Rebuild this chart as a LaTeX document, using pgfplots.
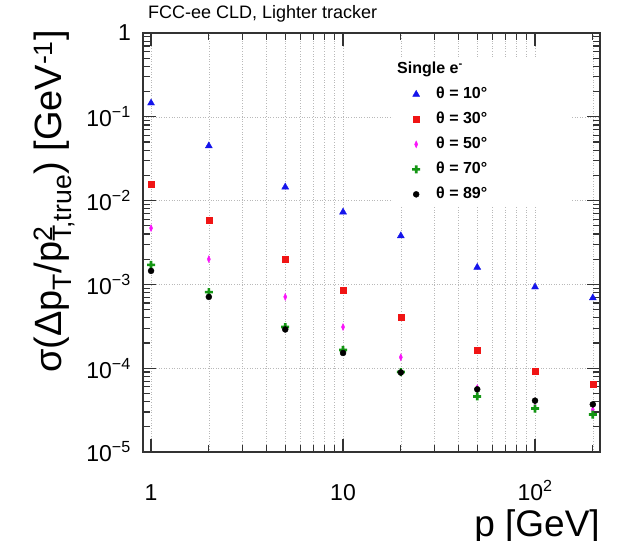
\documentclass[border=0pt]{standalone}
\usepackage{fontspec}
\setmainfont{Liberation Sans}
\usepackage{pgfplots}
\pgfplotsset{compat=1.18}

\definecolor{rblue}{RGB}{20,20,235}
\definecolor{rred}{RGB}{240,20,20}
\definecolor{rmag}{RGB}{250,20,250}
\definecolor{rgreen}{RGB}{20,150,20}

\pgfdeclareplotmark{fcross}{%
  \pgfpathmoveto{\pgfpoint{-0.33\pgfplotmarksize}{\pgfplotmarksize}}%
  \pgfpathlineto{\pgfpoint{0.33\pgfplotmarksize}{\pgfplotmarksize}}%
  \pgfpathlineto{\pgfpoint{0.33\pgfplotmarksize}{0.33\pgfplotmarksize}}%
  \pgfpathlineto{\pgfpoint{\pgfplotmarksize}{0.33\pgfplotmarksize}}%
  \pgfpathlineto{\pgfpoint{\pgfplotmarksize}{-0.33\pgfplotmarksize}}%
  \pgfpathlineto{\pgfpoint{0.33\pgfplotmarksize}{-0.33\pgfplotmarksize}}%
  \pgfpathlineto{\pgfpoint{0.33\pgfplotmarksize}{-\pgfplotmarksize}}%
  \pgfpathlineto{\pgfpoint{-0.33\pgfplotmarksize}{-\pgfplotmarksize}}%
  \pgfpathlineto{\pgfpoint{-0.33\pgfplotmarksize}{-0.33\pgfplotmarksize}}%
  \pgfpathlineto{\pgfpoint{-\pgfplotmarksize}{-0.33\pgfplotmarksize}}%
  \pgfpathlineto{\pgfpoint{-\pgfplotmarksize}{0.33\pgfplotmarksize}}%
  \pgfpathlineto{\pgfpoint{-0.33\pgfplotmarksize}{0.33\pgfplotmarksize}}%
  \pgfpathclose
  \pgfusepathqfill
}

\begin{document}
\begin{tikzpicture}
\useasboundingbox (-143pt,-88pt) rectangle (474pt,452pt);
\begin{axis}[
  scale only axis, width=457pt, height=419pt,
  at={(0,0)}, anchor=south west,
  xmode=log, ymode=log,
  xmin=0.908, xmax=218, ymin=1e-5, ymax=1,
  xtick={1,10,100}, xticklabels={1,10,10\textsuperscript{2}},
  minor xtick={2,3,4,5,6,7,8,9,20,30,40,50,60,70,80,90,200},
  ytick={1e-5,1e-4,1e-3,1e-2,1e-1,1},
  yticklabels={10\textsuperscript{−5},10\textsuperscript{−4},10\textsuperscript{−3},10\textsuperscript{−2},10\textsuperscript{−1},1},
  minor ytick={2e-5,3e-5,4e-5,5e-5,6e-5,7e-5,8e-5,9e-5,
    2e-4,3e-4,4e-4,5e-4,6e-4,7e-4,8e-4,9e-4,
    2e-3,3e-3,4e-3,5e-3,6e-3,7e-3,8e-3,9e-3,
    2e-2,3e-2,4e-2,5e-2,6e-2,7e-2,8e-2,9e-2,
    0.2,0.3,0.4,0.5,0.6,0.7,0.8,0.9},
  xmajorgrids, xminorgrids, ymajorgrids,
  grid style={dotted, gray!55, line width=0.6pt},
  major grid style={dotted, gray!55, line width=0.6pt},
  minor grid style={dotted, gray!55, line width=0.6pt},
  axis line style={line width=1.2pt, black!80},
  every tick/.style={line width=1.2pt, black!80},
  major tick length=13pt, minor tick length=7pt,
  tick align=inside,
  xticklabel style={font=\fontsize{23}{23}\selectfont, inner sep=0pt, text height=17pt, text depth=0pt, yshift=-31pt},
  yticklabel style={font=\fontsize{23}{23}\selectfont, inner sep=0pt, xshift=-12pt},
  xlabel={p [GeV]},
  xlabel style={at={(rel axis cs:1,0)}, anchor=base east, yshift=-84pt, font=\fontsize{37}{37}\selectfont, inner sep=0pt},
  ylabel={σ(Δp\textsubscript{T}/p\rlap{\textsuperscript{2}}\textsubscript{T,true}) [GeV\textsuperscript{-1}]},
  ylabel style={at={([xshift=-81pt,yshift=3pt]rel axis cs:0,1)}, anchor=base east, font=\fontsize{38}{38}\selectfont, inner sep=0pt},
  title={FCC-ee CLD, Lighter tracker},
  title style={at={(rel axis cs:0,1)}, anchor=base west, xshift=5pt, yshift=8pt, font=\fontsize{18}{18}\selectfont, inner sep=0pt},
  legend style={at={(rel axis cs:0.547,0.94)}, anchor=north west, draw=none, fill=white,
    font=\bfseries\fontsize{16}{16}\selectfont, row sep=7pt,
    nodes={inner sep=2pt, text height=11pt, text depth=3pt}},
  legend cell align=left,
  legend image code/.code={%
    \path[draw=none, fill=none] (-20pt,0pt) -- (18pt,0pt);
    \draw[#1, only marks] plot coordinates {(0pt,0pt)};},
]
\addlegendimage{empty legend}
\addlegendentry{\makebox[131pt][l]{\hspace{-39pt}Single e\textsuperscript{-}}}

\addplot[only marks, mark=triangle*, mark size=4pt, color=rblue] coordinates {
 (1,0.146) (2,0.045) (5,0.0145) (10,0.0073) (20,0.0038) (50,0.0016) (100,0.00093) (200,0.00069)};
\addlegendentry{θ = 10°}
\addplot[only marks, mark=square*, mark size=3pt, color=rred] coordinates {
 (1,0.0158) (2,0.0059) (5,0.00198) (10,0.00086) (20,0.00041) (50,0.000165) (100,0.000093) (200,0.000065)};
\addlegendentry{θ = 30°}
\addplot[only marks, mark=diamond*, mark size=3.5pt, mark options={xscale=0.6}, color=rmag] coordinates {
 (1,0.0047) (2,0.0020) (5,0.00071) (10,0.00031) (20,0.000135) (50,0.000058) (100,0.000040) (200,0.000032)};
\addlegendentry{θ = 50°}
\addplot[only marks, mark=fcross, mark size=4pt, color=rgreen] coordinates {
 (1,0.00171) (2,0.00081) (5,0.00031) (10,0.000165) (20,0.00009) (50,0.000046) (100,0.000033) (200,0.000028)};
\addlegendentry{θ = 70°}
\addplot[only marks, mark=*, mark size=3pt, color=black] coordinates {
 (1,0.00145) (2,0.00071) (5,0.00029) (10,0.000152) (20,0.000089) (50,0.000056) (100,0.000041) (200,0.000037)};
\addlegendentry{θ = 89°}
\end{axis}
\end{tikzpicture}
\end{document}
